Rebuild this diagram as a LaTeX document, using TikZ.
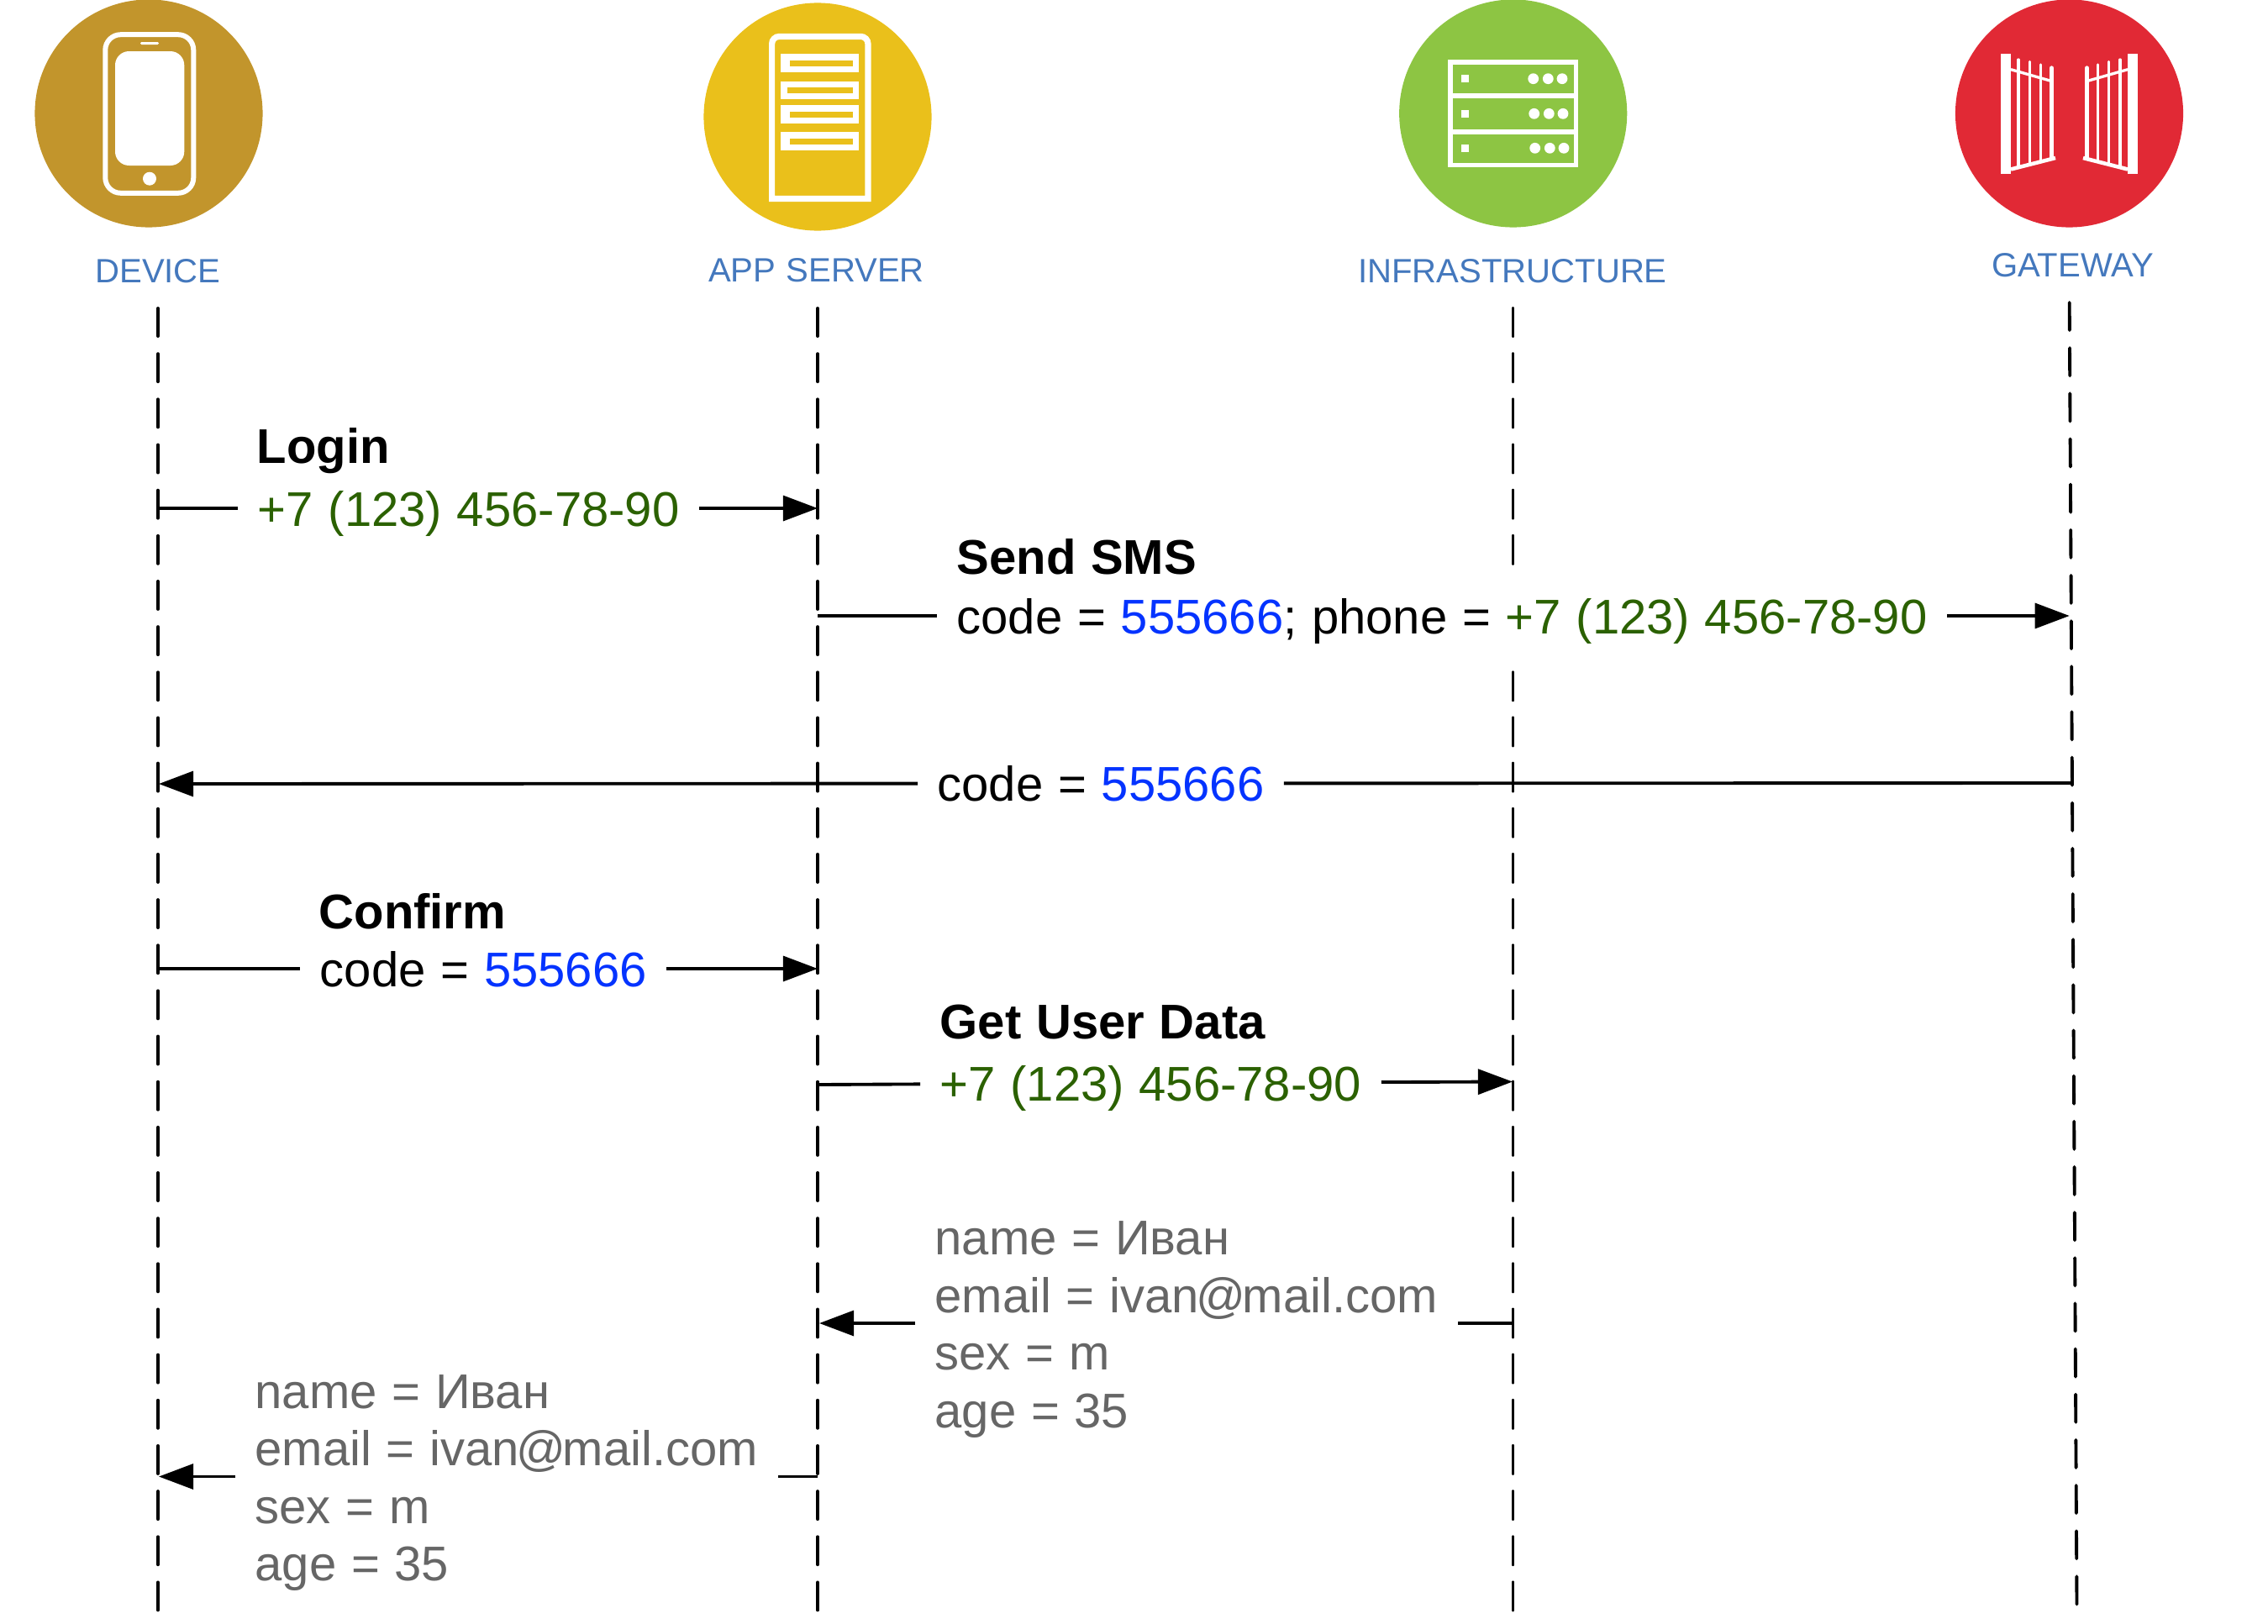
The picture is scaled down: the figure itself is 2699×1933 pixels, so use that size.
\documentclass[tikz,border=0pt]{standalone}
\usepackage{fontspec}
\setmainfont{Liberation Sans}[WordSpace=1.1]
\usetikzlibrary{arrows.meta, calc}
\usepackage{xcolor}

\definecolor{devcol}{HTML}{C2952C}
\definecolor{srvcol}{HTML}{EAC01B}
\definecolor{infcol}{HTML}{8DC543}
\definecolor{gwcol}{HTML}{E12935}
\definecolor{headcol}{HTML}{4478BD}
\definecolor{numcol}{HTML}{2B6101}
\definecolor{codecol}{HTML}{0433FF}
\definecolor{infocol}{HTML}{666666}

\newcommand{\phonenum}{\textcolor{numcol}{+7 (123) 456-78-90}}
\newcommand{\codenum}{\textcolor{codecol}{555666}}
\newcommand{\mailaddr}{ivan\kern-1pt @\kern-1pt mail.com}

\tikzset{
  >={Triangle[length=11.7pt, width=8.5pt]},
  lifeline/.style={line width=1.1pt, line cap=round, dash pattern=on 9.4pt off 6pt},
  msg/.style={line width=1.1pt},
  badge/.style={circle, inner sep=0pt, minimum size=77.1pt},
  head/.style={anchor=base, text=headcol, inner sep=0pt, font=\fontsize{11.4}{13}\selectfont},
  msgtitle/.style={anchor=base west, inner sep=0pt, font=\fontsize{16.5}{19.46}\selectfont\bfseries},
  msgval/.style={anchor=west, fill=white, inner xsep=6.5pt, inner ysep=4.7pt, text height=15.5pt, text depth=3.55pt,
    font=\fontsize{16.5}{19.46}\selectfont},
  msginfo/.style={anchor=base west, fill=white, inner xsep=6.5pt, inner ysep=0pt, align=left, text=infocol,
    font=\fontsize{16.5}{19.46}\selectfont},
}

\begin{document}
\begin{tikzpicture}[x=0.01cm, y=-0.01cm]
  \useasboundingbox (0,0) rectangle (2699,1933);

  % badges
  \node[badge, fill=devcol] (devbadge) at (177,135) {};
  \node[badge, fill=srvcol] (srvbadge) at (973,139) {};
  \node[badge, fill=infcol] (infbadge) at (1800.7,135) {};
  \node[badge, fill=gwcol] (gwbadge) at (2462.5,135) {};

  % phone
  \draw[white, line width=1.7pt, rounded corners=5.2pt] (125.3,41.2) rectangle (230.3,229.8);
  \fill[white, rounded corners=4.7pt] (137,61) rectangle (219.3,197);
  \fill[white, rounded corners=0.4pt] (167,50) rectangle (189,53);
  \fill[white] (178,212.7) circle (8);

  % server
  \draw[white, line width=2.05pt] (918.6,236.4) [rounded corners=2.5pt] -- (918.6,43.4) -- (1033,43.4) [sharp corners] -- (1033,236.4) -- cycle;
  \foreach \y/\l in {64.3/940, 96.7/936.7, 125.3/940, 157.3/940} {
    \fill[white] (929.3,\y) rectangle (1022.3,\y+21.7);
    \fill[srvcol] (\l,\y+7.4) rectangle (1015,\y+14.7);
  }

  % infrastructure
  \draw[white, line width=1.6pt] (1725.8,73.8) rectangle (1875.5,196.5);
  \fill[white] (1725.8,111) rectangle (1875.5,117);
  \fill[white] (1725.8,154) rectangle (1875.5,160);
  \foreach \y/\d in {93.7/0, 135.3/1, 176.3/2} {
    \fill[white] (1739,\y-4.5) rectangle (1748,\y+4.5);
    \foreach \x in {1824.7,1842.3,1859} {
      \fill[white] (\x+\d,\y) circle (6.4);
    }
  }

  % gate
  \foreach \s in {-1,1} {
    \begin{scope}[shift={(2462.5,0)}, xscale=\s]
      \fill[white] (-81.5,64) rectangle (-69.5,207);
      \draw[white, line width=0.95pt] (-69.5,82.7) -- (-23,96);
      \draw[white, line width=1.3pt] (-69.5,201.5) -- (-16.5,188);
      \foreach \x/\t/\b in {-60.5/71/198, -47/73.5/195, -34/77/192} {
        \draw[white, line width=0.95pt, line cap=round] (\x,\t) -- (\x,\b);
      }
      \draw[white, line width=1.5pt, line cap=round] (-21,81) -- (-21,188);
    \end{scope}
  }

  % headers
  \node[head] (devhead) at (188,336.7) {DEVICE};
  \node[head] (srvhead) at (971.5,335) {APP SERVER};
  \node[head] (infhead) at (1800,336.7) {INFRASTRUCTURE};
  \node[head] (gwhead) at (2466.5,329) {GATEWAY};

  % lifelines
  \coordinate (devtop) at (188,367);
  \coordinate (devend) at (188,1925);
  \coordinate (srvtop) at (973,367);
  \coordinate (srvend) at (973,1925);
  \coordinate (inftop) at (1800.5,367);
  \coordinate (infend) at (1800.5,1925);
  \coordinate (gwtop) at (2462.7,360);
  \coordinate (gwend) at (2471.5,1911);
  \draw[lifeline] (devtop) -- (devend);
  \draw[lifeline] (srvtop) -- (srvend);
  \draw[lifeline] (inftop) -- (infend);
  \draw[lifeline] (gwtop) -- (gwend);

  % login
  \coordinate (login1) at (188,605);
  \coordinate (login2) at (973,605);
  \node[msgval] (loginval) at (283.4,605) {\phonenum};
  \node[msgtitle] (logintitle) at (305,551) {Login};
  \draw[msg] (login1) -- (loginval);
  \draw[msg, ->] (loginval) -- (login2);

  % sms
  \coordinate (sms1) at (973,733);
  \coordinate (sms2) at (2462.7,733);
  \node[msgval] (smsval) at (1115,733) {code = \codenum; phone = \phonenum};
  \node[msgtitle] (smstitle) at (1138,683) {Send SMS};
  \draw[msg] (sms1) -- (smsval);
  \draw[msg, ->] (smsval) -- (sms2);

  % code back to the device
  \coordinate (code1) at (2466,932);
  \coordinate (code2) at (189,933);
  \node[msgval] (codeval) at (1092,932.5) {code = \codenum};
  \draw[msg] (code1) -- (codeval);
  \draw[msg, ->] (codeval) -- (code2);

  % confirm
  \coordinate (conf1) at (188,1153);
  \coordinate (conf2) at (973,1153);
  \node[msgval] (confval) at (357.4,1153) {code = \codenum};
  \node[msgtitle] (conftitle) at (379,1105) {Confirm};
  \draw[msg] (conf1) -- (confval);
  \draw[msg, ->] (confval) -- (conf2);

  % user data
  \coordinate (get1) at (974,1291);
  \coordinate (get2) at (1800,1287.5);
  \node[msgval] (getval) at (1095,1289) {\phonenum};
  \node[msgtitle] (gettitle) at (1118,1236) {Get User Data};
  \draw[msg] (get1) -- (getval);
  \draw[msg, ->] (getval) -- (get2);

  % answer to the server
  \coordinate (ans1) at (1800.5,1575);
  \coordinate (ans2) at (975,1575);
  \node[msginfo] (ansinfo) at (1089,1699) {name = Иван\\email = \mailaddr\\sex = m\\age = 35};
  \draw[msg] (ans1) -- (ans1 -| ansinfo.east);
  \draw[msg, ->] (ans2 -| ansinfo.west) -- (ans2);

  % answer to the device
  \coordinate (dat1) at (973,1757.5);
  \coordinate (dat2) at (189,1757.5);
  \node[msginfo] (datinfo) at (280,1881.5) {name = Иван\\email = \mailaddr\\sex = m\\age = 35};
  \draw[msg] (dat1) -- (dat1 -| datinfo.east);
  \draw[msg, ->] (dat2 -| datinfo.west) -- (dat2);

\end{tikzpicture}
\end{document}
